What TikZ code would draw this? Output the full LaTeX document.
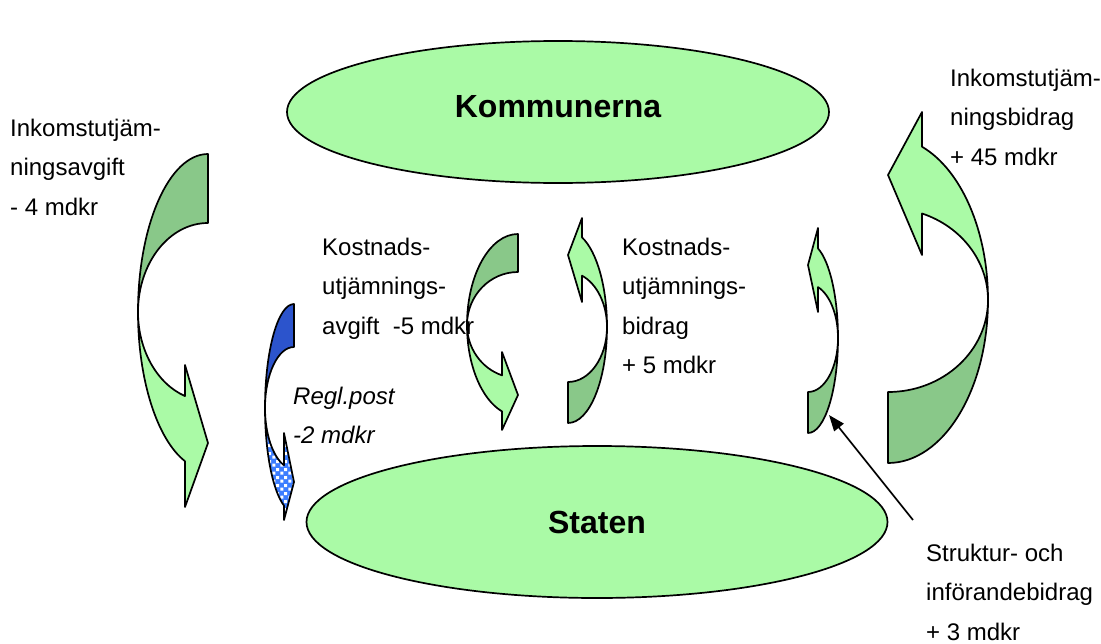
\documentclass[tikz,border=0pt]{standalone}
\usepackage{fontspec}
\setmainfont{Liberation Sans}
\usetikzlibrary{shapes.geometric,patterns,arrows.meta}
\definecolor{lgreen}{RGB}{170,250,166}
\definecolor{dgreen}{RGB}{137,200,137}
\definecolor{rblue}{RGB}{44,84,204}
\definecolor{cblue}{RGB}{60,125,255}
\pgfdeclarepatternformonly{bigchecker}{\pgfpointorigin}{\pgfqpoint{8pt}{8pt}}{\pgfqpoint{8pt}{8pt}}{%
  \pgfpathrectangle{\pgfqpoint{0.4pt}{0.4pt}}{\pgfqpoint{3.4pt}{3.4pt}}%
  \pgfpathrectangle{\pgfqpoint{4.4pt}{4.4pt}}{\pgfqpoint{3.4pt}{3.4pt}}%
  \pgfusepath{fill}}
% curved arrow: #1 centre (tail edge x, crossing y), #2 rx, #3 outer ry, #4 inner ry,
% #5 barb offset, #6 outer barb y, #7 tip y, #8 inner barb y, #9 scope options
\newcommand{\carrow}[9]{%
  \begin{scope}[shift={(#1)},#9]
    \pgfmathsetmacro{\cth}{acos(-#5/#2)}
    \path[darkpart] (0,-#3)
      arc[start angle=-90,end angle=-180,x radius=#2,y radius=#3]
      arc[start angle=180,end angle=270,x radius=#2,y radius=#4] -- cycle;
    \path[lightpart] (-#2,0)
      arc[start angle=180,end angle=\cth,x radius=#2,y radius=#3]
      -- (-#5,#6) -- (0,#7) -- (-#5,#8)
      -- ({#2*cos(\cth)},{#4*sin(\cth)})
      arc[start angle=\cth,end angle=180,x radius=#2,y radius=#4] -- cycle;
  \end{scope}}
\tikzset{
  darkpart/.style={draw=black,line width=1.7pt,line join=round,fill=dgreen},
  lightpart/.style={draw=black,line width=1.7pt,line join=round,fill=lgreen},
  lbl/.style={anchor=base west,align=left,inner sep=0pt,font=\fontsize{24}{39.5}\selectfont},
  oval/.style={ellipse,draw=black,line width=1.7pt,fill=lgreen,inner sep=0pt,
    font=\bfseries\fontsize{32}{38}\selectfont}
}
\begin{document}
\begin{tikzpicture}[x=1pt,y=-1pt]
\useasboundingbox (0,0) rectangle (1101,643);
% ovals
\node[oval,minimum width=542pt,minimum height=142pt,text depth=12pt] (komm) at (558,112) {Kommunerna};
\node[oval,minimum width=581pt,minimum height=152pt] (staten) at (597,522) {Staten};
% curved arrows
\carrow{208,312}{70}{158}{89}{23}{195}{131}{53}{}
\carrow{294,408}{29}{104}{61}{10}{112}{74}{25}{darkpart/.style={draw=black,line width=1.7pt,line join=round,fill=rblue},
  lightpart/.style={draw=black,line width=1.7pt,line join=round,preaction={fill=cblue},pattern=bigchecker,pattern color=white}}
\carrow{518,325}{51}{91}{53}{16}{105}{70}{27}{}
\carrow{568,327}{39}{96}{55}{14}{109}{72}{25}{rotate=180}
\carrow{808,338}{30}{95}{54}{10}{110}{73}{26}{rotate=180}
\carrow{888,300}{100}{163}{92}{34}{188}{125}{45}{rotate=180}
% pointer
\coordinate (ptail) at (913,520);
\coordinate (ptip) at (829,415);
\draw[line width=1.7pt,-{Triangle[length=16pt,width=12pt]}] (ptail) -- (ptip);
% labels (anchor = baseline of the last line)
\node[lbl] (ia) at (10,215) {Inkomstutjäm-\\ningsavgift\\- 4 mdkr};
\node[lbl] (ka) at (322,334) {Kostnads-\\utjämnings-\\avgift\ \ -5 mdkr};
\node[lbl] (kb) at (622,373.5) {Kostnads-\\utjämnings-\\bidrag\\+ 5 mdkr};
\node[lbl,font=\fontsize{24}{39.5}\selectfont\itshape] (rp) at (293,443.5) {Regl.post\\-2 mdkr};
\node[lbl] (ib) at (950,165) {Inkomstutjäm-\\ningsbidrag\\+ 45 mdkr};
\node[lbl] (sb) at (926,640) {Struktur- och\\införandebidrag\\+ 3 mdkr};
\end{tikzpicture}
\end{document}
